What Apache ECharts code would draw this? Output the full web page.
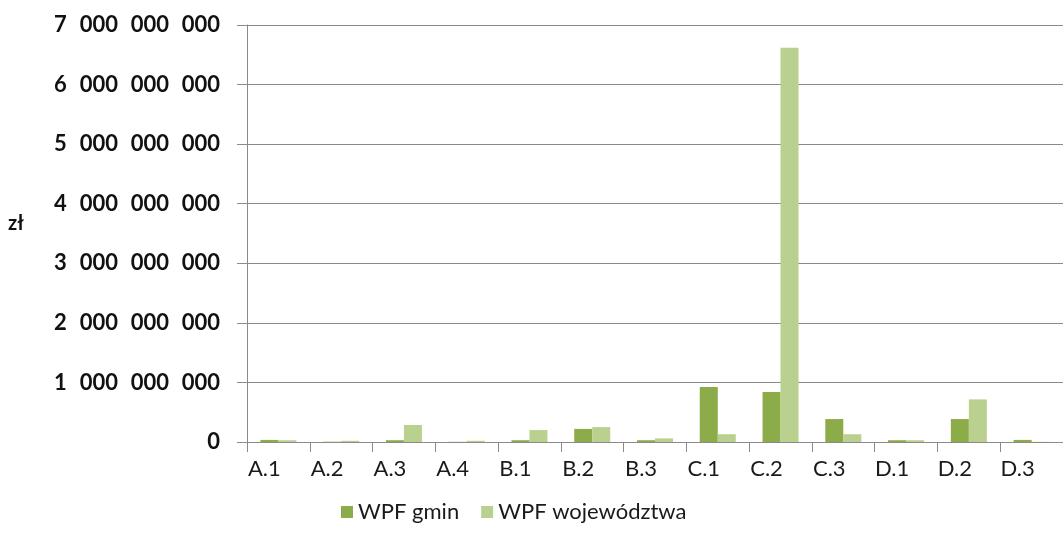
<!DOCTYPE html>
<html>
<head>
<meta charset="utf-8">
<script src="https://cdn.jsdelivr.net/npm/echarts@6/dist/echarts.min.js"></script>
<style>
html,body{margin:0;padding:0;background:#fff;}
#chart{width:1063px;height:545px;}
</style>
</head>
<body>
<div id="chart"></div>
<script>
var categories = ['A.1','A.2','A.3','A.4','B.1','B.2','B.3','C.1','C.2','C.3','D.1','D.2','D.3'];
var wpfGmin = [35e6, 5e6, 30e6, 3e6, 30e6, 220e6, 30e6, 925e6, 840e6, 385e6, 30e6, 385e6, 35e6];
var wpfWoj  = [30e6, 20e6, 285e6, 20e6, 200e6, 250e6, 60e6, 130e6, 6620e6, 130e6, 30e6, 715e6, 3e6];
var seriesNames = ['WPF gmin', 'WPF województwa'];
var yAxisName = 'zł';

function fmt(v){
  var s = String(Math.round(v));
  return s.replace(/\B(?=(\d{3})+(?!\d))/g, '\u2007');
}

var chart = echarts.init(document.getElementById('chart'));
chart.setOption({
  animation:false,
  backgroundColor:'#ffffff',
  grid:{left:247, top:25, bottom:103, width:819},
  legend:{
    left:336, top:496,
    itemWidth:12, itemHeight:12, itemGap:22,
    icon:'rect',
    textStyle:{fontFamily:'Lato', fontSize:22, color:'#1a1a1a'},
    data:seriesNames
  },
  graphic:[{
    type:'text', left:8, top:214,
    style:{text:yAxisName, font:'bold 20px Lato', fill:'#111'}
  }],
  xAxis:{
    type:'category', data:categories,
    axisLine:{lineStyle:{color:'#8a8a8a', width:1}},
    axisTick:{show:true, length:10, lineStyle:{color:'#8a8a8a'}},
    axisLabel:{fontFamily:'Lato', fontSize:22, color:'#1a1a1a', margin:16, interval:0, padding:[0,28,0,0]}
  },
  yAxis:{
    type:'value', min:0, max:7e9, interval:1e9,
    axisLine:{show:true, lineStyle:{color:'#8a8a8a', width:1}},
    axisTick:{show:true, length:10, lineStyle:{color:'#8a8a8a'}},
    splitLine:{lineStyle:{color:'#8a8a8a', width:1}},
    axisLabel:{fontFamily:'Lato', fontWeight:'bold', fontSize:22, color:'#111', margin:27, formatter:fmt}
  },
  series:[
    {name:seriesNames[0], type:'bar', data:wpfGmin, barWidth:18, barGap:'0%', itemStyle:{color:'#8cab49'}},
    {name:seriesNames[1], type:'bar', data:wpfWoj, barWidth:18, barGap:'0%', itemStyle:{color:'#b9d08f'}}
  ]
});
</script>
</body>
</html>
